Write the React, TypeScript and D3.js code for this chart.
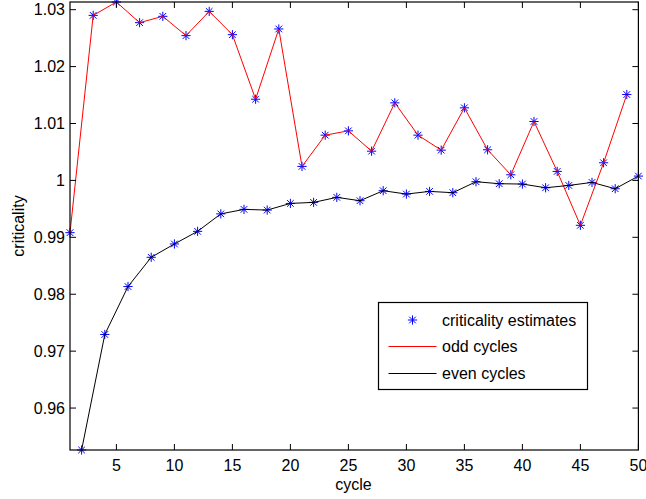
import React from "react";
import * as d3 from "d3";

// Cycle-by-cycle criticality estimates
const oddCycles = [1, 3, 5, 7, 9, 11, 13, 15, 17, 19, 21, 23, 25, 27, 29, 31, 33, 35, 37, 39, 41, 43, 45, 47, 49];
const oddValues = [
  0.99082, 1.0290, 1.03135, 1.02772, 1.02883, 1.02544, 1.0297, 1.02561, 1.01427, 1.02661,
  1.00246, 1.00795, 1.00871, 1.00514, 1.01363, 1.00795, 1.00532, 1.01275, 1.00538, 1.00099,
  1.01035, 1.00158, 0.99211, 1.0031, 1.01509,
];
const evenCycles = [2, 4, 6, 8, 10, 12, 14, 16, 18, 20, 22, 24, 26, 28, 30, 32, 34, 36, 38, 40, 42, 44, 46, 48, 50];
const evenValues = [
  0.95263, 0.97293, 0.98135, 0.98649, 0.98883, 0.99105, 0.99412, 0.99491, 0.99479, 0.99596,
  0.99614, 0.99702, 0.99643, 0.99819, 0.9976, 0.99807, 0.99784, 0.99977, 0.99942, 0.99936,
  0.99871, 0.99912, 0.99965, 0.99854, 1.00076,
];
const xTicks = [5, 10, 15, 20, 25, 30, 35, 40, 45, 50];
const yTicks = [0.96, 0.97, 0.98, 0.99, 1.0, 1.01, 1.02, 1.03];
const legendLabels = ["criticality estimates", "odd cycles", "even cycles"];

const W = 646;
const H = 499;
const left = 70;
const right = 638.4;
const top = 2;
const bottom = 450;
const FONT = "'Liberation Sans', Arial, Helvetica, sans-serif";

function Asterisk({ x, y, r = 4.6 }: { x: number; y: number; r?: number }) {
  const d = r * 0.72;
  return (
    <g stroke="#0000ff" strokeWidth={1} fill="none">
      <line x1={x - r} y1={y} x2={x + r} y2={y} />
      <line x1={x} y1={y - r} x2={x} y2={y + r} />
      <line x1={x - d} y1={y - d} x2={x + d} y2={y + d} />
      <line x1={x - d} y1={y + d} x2={x + d} y2={y - d} />
    </g>
  );
}

export default function App() {
  const allValues = [...oddValues, ...evenValues];
  const x = d3.scaleLinear().domain([1, 50]).range([left, right]);
  const y = d3
    .scaleLinear()
    .domain([d3.min(allValues) as number, d3.max(allValues) as number])
    .range([bottom, top]);

  const line = d3
    .line<[number, number]>()
    .x((d) => x(d[0]))
    .y((d) => y(d[1]));

  const oddPts: [number, number][] = oddCycles.map((c, i) => [c, oddValues[i]]);
  const evenPts: [number, number][] = evenCycles.map((c, i) => [c, evenValues[i]]);
  const allPts = [...oddPts, ...evenPts];

  const tickLen = 6;
  const fmtY = (v: number) => (Math.abs(v - 1) < 1e-9 ? "1" : d3.format(".2f")(v).replace(/0$/, ""));

  // legend box
  const lx0 = 378.5;
  const lx1 = 587.5;
  const ly0 = 302.5;
  const ly1 = 389.5;
  const rowY = [320, 346.5, 373.5];

  return (
    <svg
      width={W}
      height={H}
      style={{ position: "absolute", left: 0, top: 0, background: "#fff" }}
      fontFamily={FONT}
    >
      <rect x={0} y={0} width={W} height={H} fill="#fff" />
      <defs>
        <clipPath id="plot-clip">
          <rect x={left - 6} y={top - 6} width={right - left + 12} height={bottom - top + 12} />
        </clipPath>
      </defs>

      <g clipPath="url(#plot-clip)">
        {allPts.map((p, i) => (
          <Asterisk key={i} x={x(p[0])} y={y(p[1])} />
        ))}
        <path d={line(oddPts) || ""} fill="none" stroke="#ff0000" strokeWidth={1} />
        <path d={line(evenPts) || ""} fill="none" stroke="#000" strokeWidth={1} />
      </g>

      {/* axes box */}
      <rect x={left} y={top} width={right - left} height={bottom - top} fill="none" stroke="#000" strokeWidth={1.2} />

      {/* x ticks */}
      {xTicks.map((t) => (
        <g key={"x" + t}>
          <line x1={x(t)} x2={x(t)} y1={bottom} y2={bottom - tickLen} stroke="#000" />
          <line x1={x(t)} x2={x(t)} y1={top} y2={top + tickLen} stroke="#000" />
          <text x={x(t)} y={470.5} textAnchor="middle" fontSize={16} fill="#000">
            {t}
          </text>
        </g>
      ))}

      {/* y ticks */}
      {yTicks.map((t) => (
        <g key={"y" + t}>
          <line x1={left} x2={left + tickLen} y1={y(t)} y2={y(t)} stroke="#000" />
          <line x1={right} x2={right - tickLen} y1={y(t)} y2={y(t)} stroke="#000" />
          <text x={65} y={y(t)} dy="0.36em" textAnchor="end" fontSize={16} fill="#000">
            {fmtY(t)}
          </text>
        </g>
      ))}

      <text x={353.5} y={490} textAnchor="middle" fontSize={16} fill="#000">
        cycle
      </text>
      <text
        transform={`translate(24, ${(top + bottom) / 2}) rotate(-90)`}
        textAnchor="middle"
        fontSize={16}
        fill="#000"
      >
        criticality
      </text>

      {/* legend */}
      <rect x={lx0} y={ly0} width={lx1 - lx0} height={ly1 - ly0} fill="#fff" stroke="#000" strokeWidth={1.2} />
      <Asterisk x={412.5} y={rowY[0]} />
      <line x1={388.5} x2={436.5} y1={rowY[1]} y2={rowY[1]} stroke="#ff0000" />
      <line x1={388.5} x2={436.5} y1={rowY[2]} y2={rowY[2]} stroke="#000" />
      {legendLabels.map((s, i) => (
        <text key={s} x={442} y={rowY[i]} dy="0.36em" fontSize={16} fill="#000">
          {s}
        </text>
      ))}
    </svg>
  );
}
